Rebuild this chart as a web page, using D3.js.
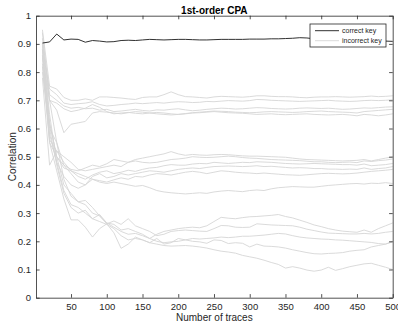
<!DOCTYPE html>
<html>
<head>
<meta charset="utf-8">
<script src="https://cdn.jsdelivr.net/npm/d3@7"></script>
<style>
  html, body { margin: 0; padding: 0; background: #fff; }
  svg { display: block; font-family: "Liberation Sans", Arial, Helvetica, sans-serif; }
</style>
</head>
<body>
<svg id="chart" width="398" height="327"></svg>
<script>
// Number of traces at which each correlation was evaluated
const traces = d3.range(10, 501, 10);

const xTicks = [50, 100, 150, 200, 250, 300, 350, 400, 450, 500];
const yTicks = [0, 0.1, 0.2, 0.3, 0.4, 0.5, 0.6, 0.7, 0.8, 0.9, 1];

// Correlation of the correct key guess
const correctKey = [
  .903, .907, .935, .914, .917, .916, .906, .912, .910, .907,
  .908, .912, .913, .912, .914, .916, .915, .914, .915, .916,
  .916, .915, .914, .914, .915, .916, .916, .916, .916, .917,
  .917, .917, .918, .918, .919, .920, .922, .921, .918, .917,
  .916, .916, .915, .915, .914, .914, .913, .912, .910, .909
];

// Correlations of the incorrect key guesses
const wrongA = [
  .95, .75, .74, .71, .70, .70, .705, .70, .712, .712,
  .71, .708, .705, .703, .71, .712, .712, .72, .73, .72,
  .713, .712, .71, .708, .712, .714, .713, .712, .711, .713,
  .716, .716, .714, .713, .713, .712, .71, .709, .711, .712,
  .712, .713, .712, .711, .712, .713, .715, .713, .714, .716
];
const wrongB = [
  .88, .74, .72, .69, .685, .688, .69, .695, .685, .68,
  .682, .685, .687, .69, .688, .69, .692, .69, .693, .695,
  .694, .692, .693, .696, .695, .697, .699, .698, .697, .699,
  .703, .702, .70, .699, .698, .697, .696, .697, .698, .699,
  .70, .698, .697, .696, .697, .699, .70, .699, .70, .702
];
const wrongC = [
  .92, .72, .70, .68, .672, .675, .67, .672, .665, .668,
  .66, .662, .665, .668, .664, .662, .666, .665, .668, .67,
  .666, .663, .665, .668, .67, .672, .671, .669, .67, .672,
  .674, .673, .671, .67, .669, .67, .672, .673, .672, .671,
  .672, .67, .668, .669, .671, .673, .672, .674, .676, .677
];
const wrongD = [
  .85, .70, .69, .67, .66, .665, .672, .685, .675, .66,
  .652, .655, .657, .654, .652, .655, .657, .655, .652, .65,
  .653, .656, .658, .66, .662, .661, .66, .658, .657, .656,
  .657, .659, .66, .659, .658, .657, .658, .66, .661, .662,
  .66, .659, .658, .657, .655, .66, .662, .664, .666, .668
];
const wrongE = [
  .90, .70, .665, .585, .615, .62, .625, .655, .66, .658,
  .655, .652, .656, .66, .658, .655, .652, .65, .648, .65,
  .652, .655, .656, .658, .66, .658, .656, .655, .654, .652,
  .65, .651, .652, .65, .649, .65, .651, .652, .65, .649,
  .648, .649, .65, .648, .645, .65, .648, .645, .648, .652
];
const wrongF = [
  .80, .60, .55, .47, .455, .45, .46, .47, .465, .475,
  .49, .485, .48, .49, .495, .50, .505, .51, .518, .51,
  .505, .508, .506, .505, .507, .508, .507, .505, .503, .502,
  .502, .501, .50, .499, .498, .495, .492, .49, .489, .488,
  .487, .486, .485, .486, .487, .49, .485, .49, .495, .50
];
const wrongG = [
  .86, .56, .52, .50, .48, .455, .45, .455, .46, .465,
  .47, .465, .48, .485, .48, .478, .48, .485, .49, .492,
  .495, .50, .498, .497, .498, .50, .502, .50, .497, .495,
  .494, .492, .49, .489, .488, .487, .486, .484, .482, .482,
  .48, .479, .48, .481, .479, .485, .483, .486, .488, .492
];
const wrongH = [
  .78, .47, .52, .48, .45, .43, .42, .435, .445, .45,
  .44, .445, .452, .448, .455, .46, .462, .468, .472, .47,
  .47, .474, .476, .475, .48, .478, .476, .478, .48, .479,
  .482, .481, .48, .478, .476, .475, .474, .475, .476, .475,
  .474, .473, .472, .472, .47, .474, .468, .47, .472, .476
];
const wrongI = [
  .90, .62, .50, .47, .44, .41, .40, .43, .44, .425,
  .43, .44, .435, .44, .445, .45, .448, .445, .45, .455,
  .458, .46, .458, .462, .465, .466, .467, .466, .465, .466,
  .468, .465, .466, .464, .462, .46, .461, .46, .458, .458,
  .456, .456, .455, .456, .455, .46, .455, .458, .46, .465
];
const wrongJ = [
  .83, .58, .48, .43, .40, .388, .40, .42, .415, .41,
  .418, .425, .42, .43, .428, .435, .44, .438, .435, .44,
  .445, .448, .445, .44, .445, .45, .448, .445, .443, .442,
  .44, .442, .44, .438, .436, .435, .434, .436, .438, .44,
  .441, .44, .439, .44, .442, .445, .448, .45, .452, .455
];
const wrongK = [
  .88, .55, .50, .46, .45, .44, .43, .42, .41, .405,
  .41, .405, .40, .395, .398, .39, .38, .375, .372, .37,
  .368, .37, .372, .37, .375, .378, .38, .378, .376, .38,
  .382, .38, .386, .39, .392, .394, .393, .392, .392, .395,
  .398, .40, .402, .404, .405, .403, .406, .405, .408, .405
];
const wrongL = [
  .94, .70, .55, .42, .36, .34, .33, .30, .29, .265,
  .26, .24, .245, .235, .225, .21, .225, .235, .24, .245,
  .248, .25, .248, .255, .27, .285, .282, .28, .284, .287,
  .288, .29, .292, .295, .288, .283, .275, .267, .258, .252,
  .245, .24, .236, .234, .232, .24, .232, .245, .255, .265
];
const wrongM = [
  .86, .62, .50, .40, .37, .34, .345, .32, .29, .262,
  .272, .26, .28, .255, .245, .235, .22, .225, .235, .238,
  .24, .238, .236, .235, .245, .256, .255, .25, .249, .25,
  .262, .26, .258, .257, .256, .255, .25, .243, .238, .233,
  .229, .228, .227, .226, .226, .228, .226, .228, .232, .235
];
const wrongN = [
  .90, .65, .48, .38, .33, .32, .30, .28, .295, .265,
  .25, .235, .225, .228, .22, .21, .20, .195, .198, .20,
  .205, .21, .208, .21, .212, .215, .213, .215, .218, .218,
  .22, .222, .225, .228, .226, .22, .215, .212, .21, .208,
  .207, .205, .204, .202, .20, .198, .196, .192, .19, .20
];
const wrongO = [
  .82, .55, .45, .35, .276, .276, .25, .215, .245, .262,
  .23, .175, .19, .215, .205, .195, .21, .19, .195, .21,
  .205, .20, .198, .193, .205, .203, .192, .195, .193, .18,
  .19, .183, .182, .18, .176, .17, .165, .16, .156, .155,
  .157, .158, .16, .165, .168, .17, .18, .185, .19, .198
];
const wrongP = [
  .88, .60, .47, .37, .32, .30, .31, .28, .27, .26,
  .245, .22, .205, .21, .205, .195, .19, .185, .183, .184,
  .185, .183, .18, .176, .17, .165, .162, .158, .15, .145,
  .14, .133, .125, .118, .105, .11, .105, .098, .094, .098,
  .108, .097, .103, .11, .115, .12, .122, .115, .108, .10
];

const incorrectKeys = [wrongA, wrongB, wrongC, wrongD, wrongE, wrongF, wrongG, wrongH,
  wrongI, wrongJ, wrongK, wrongL, wrongM, wrongN, wrongO, wrongP];

const svg = d3.select("#chart");
const margin = { left: 36, right: 5.3, top: 15.7, bottom: 29.3 };
const W = 398, H = 327;

const x = d3.scaleLinear().domain([1, 500]).range([margin.left, W - margin.right]);
const y = d3.scaleLinear().domain([0, 1]).range([H - margin.bottom, margin.top]);

const axisColor = "#262626";
const tickLen = 3.6;

const line = d3.line()
  .x((d, i) => x(traces[i]))
  .y(d => y(d));

// Incorrect key guesses in light gray
svg.append("g")
  .selectAll("path")
  .data(incorrectKeys)
  .join("path")
  .attr("d", line)
  .attr("fill", "none")
  .attr("stroke", "#d6d6d6")
  .attr("stroke-width", 0.9);

// Correct key guess in black
svg.append("path")
  .datum(correctKey)
  .attr("d", line)
  .attr("fill", "none")
  .attr("stroke", "#1a1a1a")
  .attr("stroke-width", 0.9);

// Axes: ticks point inward, mirrored on top and right
const fontSize = 9.5;
const gx = svg.append("g")
  .attr("transform", `translate(0,${y(0)})`)
  .call(d3.axisBottom(x).tickValues(xTicks).tickSizeInner(-tickLen).tickSizeOuter(0).tickPadding(6));
const gy = svg.append("g")
  .attr("transform", `translate(${x(1)},0)`)
  .call(d3.axisLeft(y).tickValues(yTicks).tickFormat(d3.format("~g")).tickSizeInner(-tickLen).tickSizeOuter(0).tickPadding(5));
const gxt = svg.append("g")
  .attr("transform", `translate(0,${y(1)})`)
  .call(d3.axisTop(x).tickValues(xTicks).tickSizeInner(-tickLen).tickSizeOuter(0).tickFormat(""));
const gyr = svg.append("g")
  .attr("transform", `translate(${x(500)},0)`)
  .call(d3.axisRight(y).tickValues(yTicks).tickSizeInner(-tickLen).tickSizeOuter(0).tickFormat(""));

[gx, gy, gxt, gyr].forEach(g => {
  g.selectAll("path.domain").attr("stroke", axisColor).attr("stroke-width", 0.8);
  g.selectAll(".tick line").attr("stroke", axisColor).attr("stroke-width", 0.8);
  g.selectAll(".tick text")
    .attr("fill", axisColor)
    .attr("font-size", fontSize)
    .attr("font-family", "Liberation Sans, Arial, sans-serif");
});

// Title and axis labels
svg.append("text")
  .attr("x", (x(1) + x(500)) / 2)
  .attr("y", 11)
  .attr("text-anchor", "middle")
  .attr("dominant-baseline", "middle")
  .attr("font-size", 10)
  .attr("font-weight", "bold")
  .attr("fill", "#000")
  .text("1st-order CPA");

svg.append("text")
  .attr("x", (x(1) + x(500)) / 2)
  .attr("y", 318)
  .attr("text-anchor", "middle")
  .attr("dominant-baseline", "middle")
  .attr("font-size", 10)
  .attr("fill", axisColor)
  .text("Number of traces");

svg.append("text")
  .attr("transform", `translate(13,${(y(0) + y(1)) / 2}) rotate(-90)`)
  .attr("text-anchor", "middle")
  .attr("dominant-baseline", "middle")
  .attr("font-size", 10)
  .attr("fill", axisColor)
  .text("Correlation");

// Legend
const legend = svg.append("g").attr("transform", "translate(310,24)");
legend.append("rect")
  .attr("width", 76)
  .attr("height", 23)
  .attr("fill", "#fff")
  .attr("stroke", axisColor)
  .attr("stroke-width", 0.8);
const entries = [
  { label: "correct key", color: "#1a1a1a" },
  { label: "incorrect key", color: "#d6d6d6" }
];
entries.forEach((e, i) => {
  const yy = 6.7 + i * 10;
  legend.append("line")
    .attr("x1", 5).attr("x2", 29)
    .attr("y1", yy).attr("y2", yy)
    .attr("stroke", e.color)
    .attr("stroke-width", 0.9);
  legend.append("text")
    .attr("x", 32)
    .attr("y", yy)
    .attr("dominant-baseline", "middle")
    .attr("font-size", 7)
    .attr("fill", axisColor)
    .text(e.label);
});
</script>
</body>
</html>
